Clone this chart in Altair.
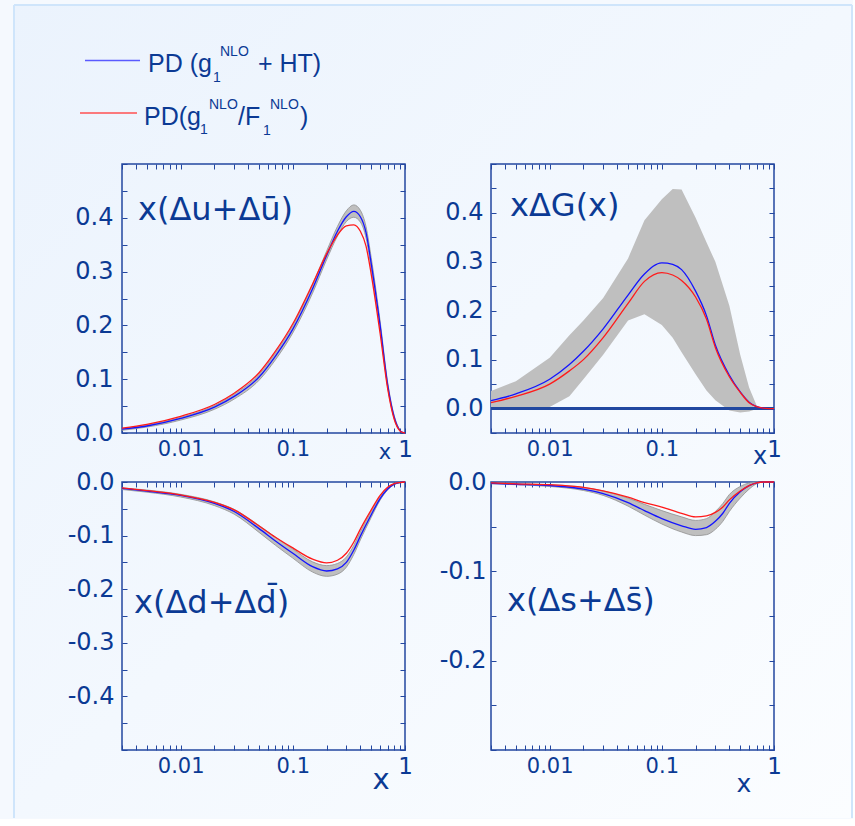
import altair as alt
import pandas as pd

# ---------------- data ----------------
x_u = [0.003, 0.005, 0.01, 0.02, 0.03, 0.05, 0.07, 0.1, 0.15, 0.2, 0.25, 0.3, 0.35, 0.4, 0.45, 0.5, 0.6, 0.7, 0.8, 0.9, 0.95, 1.0]
blue_u = [0.007, 0.013, 0.027, 0.048, 0.068, 0.104, 0.143, 0.193, 0.268, 0.33, 0.375, 0.402, 0.412, 0.402, 0.372, 0.315, 0.2, 0.09, 0.03, 0.005, 0.001, 0.0]
red_u = [0.009, 0.016, 0.031, 0.053, 0.074, 0.112, 0.152, 0.203, 0.277, 0.333, 0.368, 0.385, 0.387, 0.375, 0.347, 0.295, 0.185, 0.083, 0.026, 0.004, 0.001, 0.0]
lo_u = [0.005, 0.011, 0.024, 0.044, 0.063, 0.098, 0.136, 0.186, 0.26, 0.322, 0.366, 0.393, 0.401, 0.392, 0.362, 0.305, 0.192, 0.085, 0.027, 0.004, 0.001, 0.0]
hi_u = [0.008, 0.015, 0.029, 0.051, 0.072, 0.109, 0.149, 0.2, 0.276, 0.338, 0.384, 0.413, 0.424, 0.414, 0.383, 0.326, 0.208, 0.095, 0.033, 0.006, 0.001, 0.0]

x_g = [0.003, 0.005, 0.01, 0.015, 0.02, 0.03, 0.05, 0.07, 0.1, 0.125, 0.15, 0.2, 0.25, 0.3, 0.4, 0.5, 0.6, 0.7, 0.8, 0.9, 1.0]
blue_g = [0.016, 0.03, 0.06, 0.09, 0.117, 0.163, 0.232, 0.275, 0.298, 0.295, 0.284, 0.24, 0.19, 0.13, 0.068, 0.034, 0.013, 0.004, 0.001, 0.0, 0.0]
red_g = [0.012, 0.025, 0.05, 0.077, 0.1, 0.145, 0.215, 0.26, 0.278, 0.273, 0.262, 0.228, 0.183, 0.125, 0.065, 0.033, 0.012, 0.004, 0.001, 0.0, 0.0]
lo_g = [-0.003, -0.002, 0.003, 0.025, 0.06, 0.11, 0.18, 0.193, 0.171, 0.145, 0.115, 0.07, 0.037, 0.017, -0.004, -0.008, -0.006, -0.001, 0.0, 0.0, 0.0]
hi_g = [0.036, 0.056, 0.104, 0.15, 0.18, 0.226, 0.307, 0.385, 0.428, 0.449, 0.448, 0.39, 0.34, 0.3, 0.21, 0.11, 0.043, 0.006, 0.0, 0.0, 0.0]

x_ds = [0.003, 0.005, 0.01, 0.02, 0.03, 0.05, 0.07, 0.1, 0.15, 0.2, 0.25, 0.3, 0.35, 0.4, 0.5, 0.6, 0.7, 0.8, 0.9, 1.0]
blue_d = [-0.012, -0.017, -0.025, -0.04, -0.055, -0.087, -0.11, -0.133, -0.158, -0.166, -0.162, -0.15, -0.127, -0.101, -0.061, -0.031, -0.013, -0.004, -0.001, 0.0]
red_d = [-0.011, -0.016, -0.024, -0.038, -0.052, -0.082, -0.103, -0.123, -0.144, -0.151, -0.146, -0.133, -0.112, -0.088, -0.052, -0.025, -0.01, -0.003, -0.001, 0.0]
lo_d = [-0.014, -0.019, -0.028, -0.044, -0.06, -0.094, -0.118, -0.142, -0.168, -0.176, -0.172, -0.159, -0.135, -0.108, -0.066, -0.034, -0.015, -0.005, -0.001, 0.0]
hi_d = [-0.011, -0.015, -0.023, -0.037, -0.051, -0.081, -0.103, -0.125, -0.149, -0.156, -0.152, -0.14, -0.118, -0.093, -0.055, -0.027, -0.011, -0.003, -0.001, 0.0]

blue_s = [-0.0015, -0.0025, -0.004, -0.008, -0.013, -0.023, -0.032, -0.041, -0.049, -0.053, -0.051, -0.044, -0.035, -0.024, -0.011, -0.004, -0.001, 0.0, 0.0, 0.0]
red_s = [-0.001, -0.002, -0.003, -0.006, -0.01, -0.017, -0.023, -0.028, -0.035, -0.039, -0.038, -0.034, -0.028, -0.02, -0.01, -0.004, -0.001, 0.0, 0.0, 0.0]
lo_s = [-0.002, -0.003, -0.005, -0.0095, -0.015, -0.027, -0.037, -0.047, -0.056, -0.06, -0.059, -0.053, -0.044, -0.033, -0.018, -0.008, -0.002, 0.0, 0.0, 0.0]
hi_s = [-0.001, -0.002, -0.003, -0.006, -0.01, -0.018, -0.025, -0.032, -0.039, -0.043, -0.041, -0.033, -0.024, -0.014, -0.005, -0.001, 0.0, 0.0, 0.0, 0.0]

x_ticks = [round(m * 10 ** e, 6) for e in (-3, -2, -1) for m in range(1, 10) if m * 10 ** e >= 0.003] + [1.0]

# ---------------- style ----------------
TXT = "#0b3a94"
FRAME = "#2347a0"
BLUE = "#1414ff"
RED = "#ff1a1a"
W = 283
FONT = "DejaVu Sans"
LFONT = "Liberation Sans"

one = pd.DataFrame({"v": [0]})


def txt(s, x, y, size, font=FONT, align="left", baseline="alphabetic"):
    return alt.Chart(one).mark_text(
        align=align, baseline=baseline, font=font, fontSize=size, color=TXT
    ).encode(x=alt.value(x), y=alt.value(y), text=alt.value(s))


def panel(x, blue, red, lo, hi, ydom, ystep_vals, lim, title, tpos, xt_pos, xt_size,
          ylabpad, H, band_interp="monotone", band_stroke=True, zero_line=False):
    df = pd.DataFrame({"x": x, "blue": blue, "red": red, "lo": lo, "hi": hi})
    xs = alt.Scale(type="log", domain=[0.003, 1], nice=False)
    ys = alt.Scale(domain=ydom, nice=False, zero=False)
    ylab = (f"(round(datum.value*20) % 2 == 0 && abs(datum.value) < {lim}) ? "
            "((datum.value < -0.001 ? '-' : '') + format(abs(datum.value), '.1f')) : ''")
    xlab = "datum.value == 0.01 ? '0.01' : (datum.value == 0.1 ? '0.1' : (datum.value == 1 ? '1' : ''))"
    common = dict(tickSize=5, offset=-5, domain=False, grid=False, title=None,
                  tickColor=FRAME, tickWidth=1)
    ax_b = alt.Axis(orient="bottom", values=x_ticks, labelExpr=xlab, labelPadding=5,
                    labelFont=FONT, labelColor=TXT,
                    labelFontSize={"condition": {"test": "datum.value == 1", "value": 23}, "value": 21},
                    labelOverlap=False, labelFlush=False, labelBound=False, **common)
    ax_l = alt.Axis(orient="left", values=ystep_vals, labelExpr=ylab, labelPadding=ylabpad,
                    labelFont=FONT, labelFontSize=24, labelColor=TXT,
                    labelOverlap=False, labelFlush=False, labelBound=False, **common)
    ax_t = alt.Axis(orient="top", values=x_ticks, labels=False, **common)
    ax_r = alt.Axis(orient="right", values=ystep_vals, labels=False, **common)

    base = alt.Chart(df)
    band_kw = dict(fill="#bfbfbf", interpolate=band_interp)
    if band_stroke:
        band_kw.update(stroke="#8f8f8f", strokeWidth=0.8)
    band = base.mark_area(**band_kw).encode(
        x=alt.X("x:Q", scale=xs, axis=ax_b),
        y=alt.Y("lo:Q", scale=ys, axis=ax_l),
        y2="hi:Q",
    )
    ghost = base.mark_line(opacity=0).encode(
        x=alt.X("x:Q", scale=xs, axis=ax_t),
        y=alt.Y("blue:Q", scale=ys, axis=ax_r),
    )
    layers = [band, ghost]
    if zero_line:
        layers.append(base.mark_rule(color=FRAME, strokeWidth=1.5).encode(
            y=alt.YDatum(0, scale=ys, axis=None)))
    for col, c in (("blue", BLUE), ("red", RED)):
        layers.append(base.mark_line(color=c, strokeWidth=1.3, interpolate="monotone").encode(
            x=alt.X("x:Q", scale=xs, axis=None),
            y=alt.Y(f"{col}:Q", scale=ys, axis=None),
        ))
    layers.append(txt(title, tpos[0], tpos[1], 32, baseline="middle"))
    layers.append(txt("x", xt_pos[0], xt_pos[1], xt_size, align="center", baseline="middle"))
    return alt.layer(*layers).resolve_axis(x="independent", y="independent").properties(width=W, height=H)


def steps(a, b):
    n = int(round((b - a) / 0.05))
    return [round(a + 0.05 * i, 3) for i in range(n + 1)]


p_u = panel(x_u, blue_u, red_u, lo_u, hi_u, [0, 0.5], steps(0, 0.5), 0.45,
            "x(Δu+Δū)", (16, 46), (263, 289), 21, 9, 269)
p_g = panel(x_g, blue_g, red_g, lo_g, hi_g, [-0.05, 0.5], steps(-0.05, 0.5), 0.45,
            "xΔG(x)", (19, 42), (269, 293), 24, 8, 269, band_interp="linear",
            band_stroke=False, zero_line=True)
p_d = panel(x_ds, blue_d, red_d, lo_d, hi_d, [-0.5, 0], steps(-0.5, 0), 0.45,
            "x(Δd+Δd\u0304)", (12, 121), (259, 298), 29, 8, 268)
p_s = panel(x_ds, blue_s, red_s, lo_s, hi_s, [-0.3, 0], steps(-0.3, 0), 0.25,
            "x(Δs+Δs\u0304)", (16, 119), (253, 302), 25, 5, 268)

# ---------------- legend + page frame ----------------
grad = alt.LinearGradient(
    gradient="linear",
    stops=[alt.GradientStop(color="#ebf3fd", offset=0), alt.GradientStop(color="#fbfdff", offset=1)],
    x1=0, y1=0, x2=1, y2=1,
)
bg = alt.Chart(one).mark_rect(fill=grad).encode(
    x=alt.value(-108), x2=alt.value(730), y=alt.value(-15), y2=alt.value(798))
fr_t = alt.Chart(one).mark_rule(color="#cfe5fb", strokeWidth=2).encode(
    x=alt.value(-108), x2=alt.value(730), y=alt.value(-15))
fr_l = alt.Chart(one).mark_rule(color="#cfe5fb", strokeWidth=2).encode(
    x=alt.value(-108), y=alt.value(-15), y2=alt.value(798))
fr_r = alt.Chart(one).mark_rule(color="#cfe5fb", strokeWidth=2).encode(
    x=alt.value(730), y=alt.value(-15), y2=alt.value(798))
ln_b = alt.Chart(one).mark_rule(color="#5a5aff", strokeWidth=1.5).encode(
    x=alt.value(-37), x2=alt.value(18), y=alt.value(40.5))
ln_r = alt.Chart(one).mark_rule(color="#ff5050", strokeWidth=1.5).encode(
    x=alt.value(-42), x2=alt.value(15), y=alt.value(93))

leg_parts = [
    txt("PD (g", 26, 52, 25, LFONT), txt("1", 91, 62, 14, LFONT), txt("NLO", 98, 36, 14, LFONT),
    txt("+ HT)", 136, 52, 25, LFONT),
    txt("PD(g", 22, 105, 25, LFONT), txt("1", 78, 114, 14, LFONT), txt("NLO", 87, 89, 14, LFONT),
    txt("/F", 116, 105, 25, LFONT), txt("1", 141, 115, 14, LFONT), txt("NLO", 148, 89, 14, LFONT),
    txt(")", 178, 105, 25, LFONT),
]

legend = alt.layer(bg, fr_t, fr_l, fr_r, ln_b, ln_r, *leg_parts).properties(
    width=W, height=95, view=alt.ViewBackground(stroke=None))
blank = alt.Chart(one).mark_point(opacity=0).encode(
    x=alt.value(0), y=alt.value(0)).properties(
    width=W, height=95, view=alt.ViewBackground(stroke=None))

chart = alt.concat(
    legend, blank, p_u, p_g, p_d, p_s,
    columns=2, spacing={"row": 49, "column": 86}, bounds="flush",
).properties(
    padding={"left": 13, "top": 4, "right": 0, "bottom": 0},
    background="#f5f9fe",
).configure_view(stroke=FRAME, strokeWidth=1.5)

chart.save("out.html", embed_options={"renderer": "svg", "actions": False})
